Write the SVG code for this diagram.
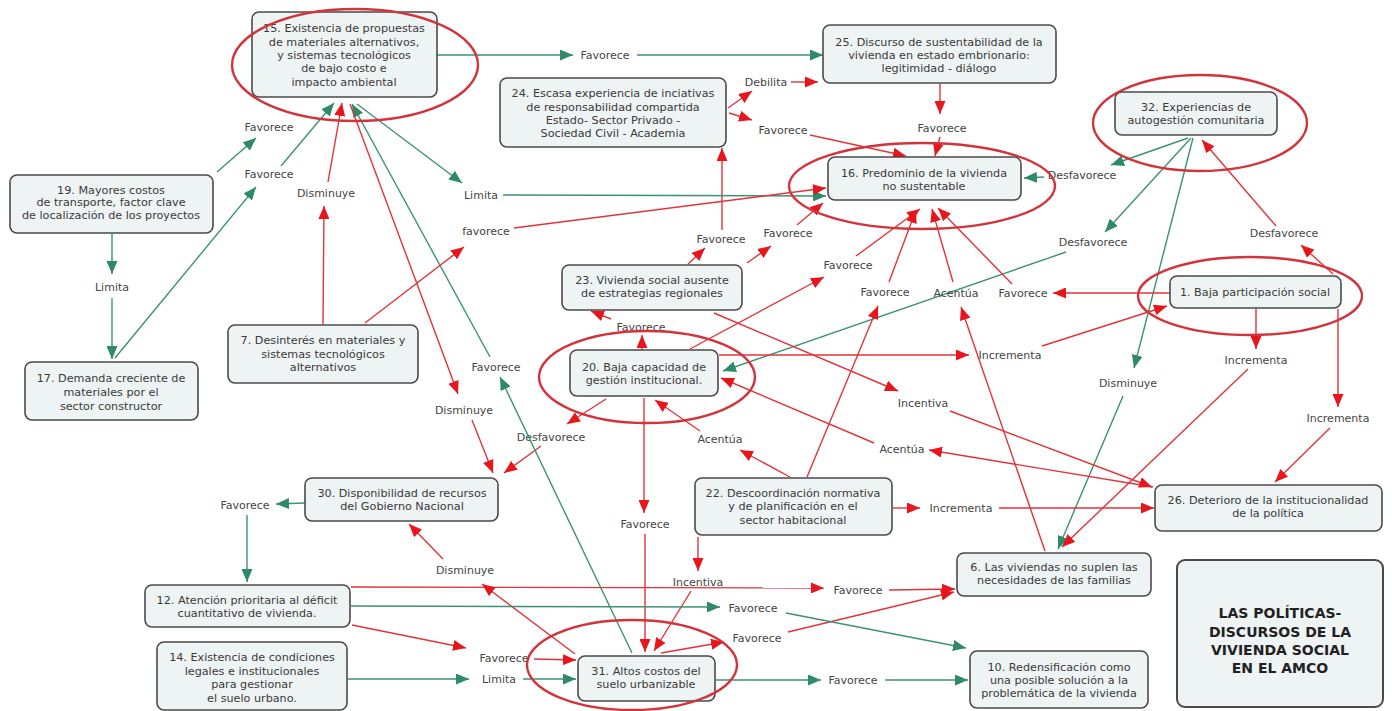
<svg xmlns="http://www.w3.org/2000/svg" width="1392" height="711" viewBox="0 0 1392 711">
<defs>
<marker id="aG" markerUnits="userSpaceOnUse" markerWidth="13" markerHeight="11" refX="13" refY="5.5" orient="auto"><path d="M0,0 L13,5.5 L0,11 z" fill="#2f8a68"/></marker>
<marker id="aR" markerUnits="userSpaceOnUse" markerWidth="13" markerHeight="11" refX="13" refY="5.5" orient="auto"><path d="M0,0 L13,5.5 L0,11 z" fill="#e8161c"/></marker>
<style>
.box{fill:#eef3f4;stroke:#4a4a4a;stroke-width:1.6}
.t{font-family:"DejaVu Sans",Verdana,sans-serif;font-size:11.2px;fill:#3a3a3a;text-anchor:middle}
.lb{font-family:"DejaVu Sans",Verdana,sans-serif;font-size:11px;fill:#444;text-anchor:middle}
.ti{font-family:"DejaVu Sans",Verdana,sans-serif;font-size:14px;font-weight:bold;fill:#222;text-anchor:middle}
.g{stroke:#3d9274;stroke-width:1.4;fill:none}
.r{stroke:#e2333a;stroke-width:1.4;fill:none}
.ga{stroke:#3d9274;stroke-width:1.4;fill:none;marker-end:url(#aG)}
.ra{stroke:#e2333a;stroke-width:1.4;fill:none;marker-end:url(#aR)}
.el{fill:none;stroke:#d2343b;stroke-width:2.4}
</style>
</defs>
<rect width="1392" height="711" fill="#ffffff"/>

<g id="connectors">
<line class="ga" x1="437" y1="55" x2="573" y2="55"/>
<text class="lb" x="605" y="59">Favorece</text>
<line class="ga" x1="637" y1="55" x2="823" y2="55"/>
<line class="ra" x1="728" y1="108" x2="752" y2="91"/>
<text class="lb" x="766" y="86">Debilita</text>
<line class="ra" x1="791" y1="82" x2="818" y2="82"/>
<line class="ra" x1="729" y1="113" x2="752" y2="120"/>
<text class="lb" x="783" y="134">Favorece</text>
<line class="ra" x1="810" y1="135" x2="906" y2="156"/>
<line class="ra" x1="940" y1="84" x2="940" y2="114"/>
<text class="lb" x="942" y="132">Favorece</text>
<line class="ra" x1="940" y1="137" x2="935" y2="156"/>
<line class="ga" x1="1188" y1="138" x2="1111" y2="165"/>
<text class="lb" x="1082" y="179">Desfavorece</text>
<line class="ga" x1="1044" y1="177" x2="1024" y2="178"/>
<line class="ga" x1="1191" y1="138" x2="1105" y2="232"/>
<text class="lb" x="1093" y="246">Desfavorece</text>
<line class="ga" x1="1066" y1="252" x2="723" y2="371"/>
<line class="ga" x1="1193" y1="138" x2="1134" y2="368"/>
<text class="lb" x="1128" y="387">Disminuye</text>
<line class="ga" x1="1123" y1="396" x2="1058" y2="549"/>
<line class="ra" x1="1333" y1="274" x2="1301" y2="245"/>
<text class="lb" x="1284" y="237">Desfavorece</text>
<line class="ra" x1="1276" y1="226" x2="1202" y2="140"/>
<line class="ra" x1="1170" y1="293" x2="1053" y2="293"/>
<text class="lb" x="1023" y="297">Favorece</text>
<line class="ra" x1="1012" y1="284" x2="938" y2="208"/>
<line class="ra" x1="1256" y1="309" x2="1256" y2="349"/>
<text class="lb" x="1256" y="364">Incrementa</text>
<line class="ra" x1="1248" y1="369" x2="1062" y2="547"/>
<line class="ra" x1="1338" y1="309" x2="1338" y2="407"/>
<text class="lb" x="1338" y="422">Incrementa</text>
<line class="ra" x1="1330" y1="428" x2="1275" y2="482"/>
<line class="ra" x1="719" y1="355" x2="969" y2="355"/>
<text class="lb" x="1010" y="359">Incrementa</text>
<line class="ra" x1="1042" y1="346" x2="1167" y2="306"/>
<line class="ra" x1="690" y1="349" x2="824" y2="277"/>
<text class="lb" x="848" y="269">Favorece</text>
<line class="ra" x1="856" y1="256" x2="920" y2="209"/>
<line class="ra" x1="688" y1="264" x2="705" y2="248"/>
<text class="lb" x="721" y="243">Favorece</text>
<line class="ra" x1="722" y1="230" x2="722" y2="148"/>
<line class="ra" x1="747" y1="263" x2="771" y2="246"/>
<text class="lb" x="788" y="237">Favorece</text>
<line class="ra" x1="797" y1="225" x2="823" y2="203"/>
<line class="ra" x1="642" y1="350" x2="642" y2="335"/>
<text class="lb" x="641" y="331">Favorece</text>
<line class="ra" x1="611" y1="319" x2="591" y2="311"/>
<line class="ra" x1="606" y1="399" x2="567" y2="424"/>
<text class="lb" x="551" y="441">Desfavorece</text>
<line class="ra" x1="541" y1="446" x2="504" y2="473"/>
<line class="ra" x1="644" y1="398" x2="644" y2="513"/>
<text class="lb" x="645" y="528">Favorece</text>
<line class="ra" x1="645" y1="534" x2="645" y2="652"/>
<line class="ra" x1="790" y1="477" x2="740" y2="450"/>
<text class="lb" x="720" y="443">Acentúa</text>
<line class="ra" x1="700" y1="431" x2="655" y2="400"/>
<line class="ra" x1="1153" y1="487" x2="929" y2="450"/>
<text class="lb" x="902" y="453">Acentúa</text>
<line class="ra" x1="874" y1="443" x2="721" y2="378"/>
<line class="ra" x1="714" y1="313" x2="898" y2="391"/>
<text class="lb" x="923" y="407">Incentiva</text>
<line class="ra" x1="950" y1="411" x2="1152" y2="487"/>
<line class="ra" x1="893" y1="508" x2="920" y2="508"/>
<text class="lb" x="961" y="512">Incrementa</text>
<line class="ra" x1="999" y1="508" x2="1154" y2="508"/>
<line class="ra" x1="807" y1="477" x2="878" y2="306"/>
<text class="lb" x="885" y="296">Favorece</text>
<line class="ra" x1="889" y1="282" x2="916" y2="210"/>
<line class="ra" x1="1045" y1="551" x2="961" y2="307"/>
<text class="lb" x="956" y="297">Acentúa</text>
<line class="ra" x1="953" y1="282" x2="932" y2="209"/>
<line class="ra" x1="698" y1="537" x2="698" y2="571"/>
<text class="lb" x="698" y="586">Incentiva</text>
<line class="ra" x1="691" y1="591" x2="654" y2="651"/>
<line class="ra" x1="661" y1="653" x2="724" y2="642"/>
<text class="lb" x="757" y="642">Favorece</text>
<line class="ra" x1="788" y1="632" x2="954" y2="592"/>
<line class="ra" x1="351" y1="587" x2="824" y2="588"/>
<text class="lb" x="858" y="594">Favorece</text>
<line class="ra" x1="889" y1="590" x2="955" y2="589"/>
<line class="ra" x1="575" y1="654" x2="482" y2="584"/>
<text class="lb" x="465" y="574">Disminuye</text>
<line class="ra" x1="443" y1="559" x2="409" y2="524"/>
<line class="ga" x1="351" y1="606" x2="720" y2="607"/>
<text class="lb" x="753" y="612">Favorece</text>
<line class="ga" x1="786" y1="613" x2="966" y2="648"/>
<line class="ra" x1="352" y1="625" x2="466" y2="648"/>
<text class="lb" x="504" y="662">Favorece</text>
<line class="ra" x1="534" y1="659" x2="576" y2="660"/>
<line class="ga" x1="348" y1="679" x2="469" y2="679"/>
<text class="lb" x="499" y="683">Limita</text>
<line class="ga" x1="523" y1="679" x2="576" y2="679"/>
<line class="ga" x1="716" y1="680" x2="821" y2="680"/>
<text class="lb" x="853" y="684">Favorece</text>
<line class="ga" x1="885" y1="680" x2="968" y2="680"/>
<line class="ga" x1="305" y1="503" x2="276" y2="504"/>
<text class="lb" x="245" y="509">Favorece</text>
<line class="ga" x1="247" y1="515" x2="247" y2="582"/>
<line class="ga" x1="632" y1="653" x2="500" y2="377"/>
<text class="lb" x="496" y="371">Favorece</text>
<line class="ga" x1="490" y1="357" x2="352" y2="104"/>
<line class="ga" x1="357" y1="104" x2="462" y2="183"/>
<text class="lb" x="481" y="199">Limita</text>
<line class="ga" x1="503" y1="195" x2="826" y2="196"/>
<line class="ra" x1="365" y1="323" x2="464" y2="247"/>
<text class="lb" x="486" y="235">favorece</text>
<line class="ra" x1="514" y1="228" x2="826" y2="188"/>
<line class="ra" x1="323" y1="324" x2="324" y2="206"/>
<text class="lb" x="326" y="197">Disminuye</text>
<line class="ra" x1="328" y1="182" x2="342" y2="103"/>
<line class="ra" x1="350" y1="104" x2="458" y2="394"/>
<text class="lb" x="464" y="414">Disminuye</text>
<line class="ra" x1="472" y1="420" x2="493" y2="473"/>
<line class="ga" x1="217" y1="172" x2="256" y2="138"/>
<text class="lb" x="269" y="131">Favorece</text>
<line class="ga" x1="115" y1="358" x2="256" y2="187"/>
<text class="lb" x="269" y="178">Favorece</text>
<line class="ga" x1="281" y1="166" x2="334" y2="103"/>
<line class="ga" x1="112" y1="234" x2="112" y2="274"/>
<text class="lb" x="112" y="291">Limita</text>
<line class="ga" x1="112" y1="298" x2="112" y2="359"/>
</g>

<g id="n15"><rect class="box" x="252" y="12" width="185" height="85" rx="7"/>
<text class="t" x="344" y="31.5">15. Existencia de propuestas</text><text class="t" x="344" y="45.5">de materiales alternativos,</text><text class="t" x="344" y="58.5">y sistemas tecnológicos</text><text class="t" x="344" y="71.5">de bajo costo e</text><text class="t" x="344" y="85.5">impacto ambiental</text>
<ellipse class="el" cx="355" cy="65" rx="123" ry="56"/></g>

<g id="n25"><rect class="box" x="823" y="25" width="233" height="58" rx="7"/>
<text class="t" x="939" y="45.5">25. Discurso de sustentabilidad de la</text><text class="t" x="939" y="58.5">vivienda en estado embrionario:</text><text class="t" x="939" y="71.5">legitimidad - diálogo</text></g>

<g id="n24"><rect class="box" x="500" y="78" width="226" height="69" rx="7"/>
<text class="t" x="613" y="96.5">24. Escasa experiencia de inciativas</text><text class="t" x="613" y="110.5">de responsabilidad compartida</text><text class="t" x="613" y="123.5">Estado- Sector Privado -</text><text class="t" x="613" y="136.5">Sociedad Civil - Academia</text></g>

<g id="n32"><rect class="box" x="1115" y="92" width="162" height="43" rx="7"/>
<text class="t" x="1196" y="110.5">32. Experiencias de</text><text class="t" x="1196" y="123.5">autogestión comunitaria</text>
<ellipse class="el" cx="1200" cy="123" rx="107" ry="48"/></g>

<g id="n16"><rect class="box" x="828" y="157" width="193" height="43" rx="7"/>
<text class="t" x="924" y="176.5">16. Predominio de la vivienda</text><text class="t" x="924" y="189.5">no sustentable</text>
<ellipse class="el" cx="922" cy="186" rx="133" ry="43"/></g>

<g id="n19"><rect class="box" x="10" y="175" width="203" height="58" rx="7"/>
<text class="t" x="111" y="193.5">19. Mayores costos</text><text class="t" x="111" y="206">de transporte, factor clave</text><text class="t" x="111" y="218.5">de localización de los proyectos</text></g>

<g id="n17"><rect class="box" x="25" y="362" width="173" height="58" rx="7"/>
<text class="t" x="111" y="381.5">17. Demanda creciente de</text><text class="t" x="111" y="395.5">materiales por el</text><text class="t" x="111" y="409.5">sector constructor</text></g>

<g id="n7"><rect class="box" x="228" y="325" width="190" height="58" rx="7"/>
<text class="t" x="323" y="343.5">7. Desinterés en materiales y</text><text class="t" x="323" y="357.5">sistemas tecnológicos</text><text class="t" x="323" y="371">alternativos</text></g>

<g id="n23"><rect class="box" x="562" y="265" width="180" height="45" rx="7"/>
<text class="t" x="652" y="283.5">23. Vivienda social ausente</text><text class="t" x="652" y="296.5">de estrategias  regionales</text></g>

<g id="n1"><rect class="box" x="1170" y="276" width="171" height="32" rx="7"/>
<text class="t" x="1255" y="296">1. Baja participación social</text>
<ellipse class="el" cx="1250" cy="296" rx="112" ry="39"/></g>

<g id="n20"><rect class="box" x="570" y="350" width="148" height="46" rx="7"/>
<text class="t" x="644" y="370.5">20. Baja capacidad de</text><text class="t" x="644" y="383.5">gestión institucional.</text>
<ellipse class="el" cx="647" cy="377" rx="108" ry="46"/></g>

<g id="n30"><rect class="box" x="305" y="478" width="193" height="43" rx="7"/>
<text class="t" x="402" y="496.5">30. Disponibilidad de recursos</text><text class="t" x="402" y="510">del Gobierno Nacional</text></g>

<g id="n22"><rect class="box" x="695" y="478" width="197" height="57" rx="7"/>
<text class="t" x="793" y="496.5">22. Descoordinación normativa</text><text class="t" x="793" y="510">y de planificación en el</text><text class="t" x="793" y="523.5">sector habitacional</text></g>

<g id="n26"><rect class="box" x="1155" y="485" width="227" height="46" rx="7"/>
<text class="t" x="1268" y="503.5">26. Deterioro de la institucionalidad</text><text class="t" x="1268" y="516.5">de la política</text></g>

<g id="n6"><rect class="box" x="957" y="553" width="194" height="43" rx="7"/>
<text class="t" x="1054" y="571">6. Las viviendas no suplen las</text><text class="t" x="1054" y="584">necesidades de las familias</text></g>

<g id="n12"><rect class="box" x="145" y="585" width="205" height="42" rx="7"/>
<text class="t" x="247" y="603.5">12. Atención prioritaria al déficit</text><text class="t" x="247" y="617">cuantitativo de vivienda.</text></g>

<g id="n14"><rect class="box" x="157" y="642" width="190" height="68" rx="7"/>
<text class="t" x="252" y="660.5">14. Existencia de condiciones</text><text class="t" x="252" y="675">legales e institucionales</text><text class="t" x="252" y="688">para gestionar</text><text class="t" x="252" y="701.5">el suelo urbano.</text></g>

<g id="n31"><rect class="box" x="578" y="656" width="137" height="45" rx="7"/>
<text class="t" x="646" y="675">31. Altos costos del</text><text class="t" x="646" y="688">suelo urbanizable</text>
<ellipse class="el" cx="632" cy="665" rx="105" ry="45"/></g>

<g id="n10"><rect class="box" x="970" y="651" width="178" height="57" rx="7"/>
<text class="t" x="1059" y="670.5">10. Redensificación como</text><text class="t" x="1059" y="683.5">una posible solución a la</text><text class="t" x="1059" y="696.5">problemática de la vivienda</text></g>

<g id="title"><rect class="box" x="1177" y="560" width="206" height="147" rx="8" style="stroke-width:2"/>
<text class="ti" x="1280" y="618">LAS POLÍTICAS-</text><text class="ti" x="1280" y="637">DISCURSOS DE LA</text><text class="ti" x="1280" y="655">VIVIENDA SOCIAL</text><text class="ti" x="1280" y="673">EN EL AMCO</text></g>
</svg>
